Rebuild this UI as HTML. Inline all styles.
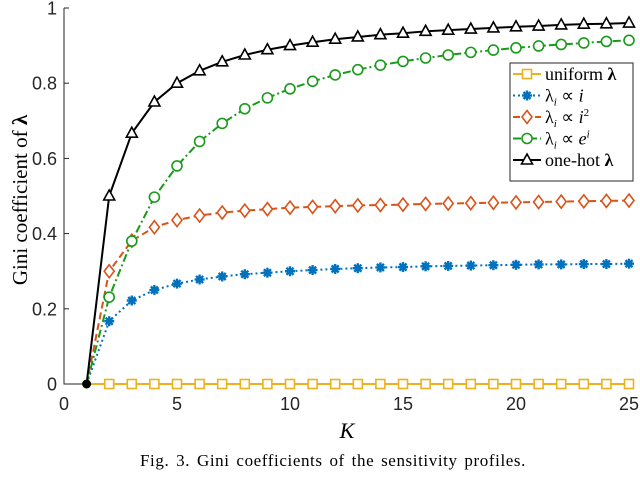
<!DOCTYPE html>
<html><head><meta charset="utf-8"><style>
body{margin:0;background:#fff;}
svg text{font-family:"Liberation Serif",serif;}
svg text.tk{font-family:"Liberation Sans",sans-serif;}
</style></head><body>
<svg id="chart" width="640" height="476" viewBox="0 0 640 476" xmlns="http://www.w3.org/2000/svg">
<g id="axes"></g>
<g id="series"></g>
<g id="legend"></g>
<text x="347" y="438" font-size="22" font-style="italic" text-anchor="middle">K</text>
<text transform="translate(27,200) rotate(-90)" font-size="21" text-anchor="middle">Gini coefficient of <tspan font-weight="bold">λ</tspan></text>
<text x="333" y="466" font-size="17" letter-spacing="0.6" word-spacing="2" text-anchor="middle">Fig. 3.   Gini coefficients of the sensitivity profiles.</text>
</svg>
<script>
const kValues=[1,2,3,4,5,6,7,8,9,10,11,12,13,14,15,16,17,18,19,20,21,22,23,24,25];
const uniformVals=[0,0,0,0,0,0,0,0,0,0,0,0,0,0,0,0,0,0,0,0,0,0,0,0,0];
const linearVals=[0,.167,.222,.25,.267,.278,.286,.292,.296,.3,.303,.306,.308,.31,.311,.313,.314,.315,.316,.317,.318,.318,.319,.319,.32];
const squareVals=[0,.3,.381,.417,.436,.448,.456,.461,.465,.469,.471,.473,.475,.476,.477,.479,.48,.481,.482,.483,.484,.485,.486,.487,.488];
const expVals=[0,.231,.38,.497,.58,.645,.693,.732,.761,.785,.805,.822,.836,.848,.858,.867,.875,.882,.888,.894,.899,.903,.907,.911,.914];
const onehotVals=[0,.5,.667,.75,.8,.833,.857,.875,.889,.9,.909,.917,.923,.929,.933,.938,.941,.944,.947,.95,.952,.955,.957,.958,.96];
const xTicks=[0,5,10,15,20,25];
const yTicks=[0,0.2,0.4,0.6,0.8,1];
const yTickLabels=["0","0.2","0.4","0.6","0.8","1"];
const NS="http://www.w3.org/2000/svg";
const X=v=>64+v*(629-64)/25;
const Y=v=>384-v*376;
function mk(tag,attrs,parent){const e=document.createElementNS(NS,tag);for(const k in attrs)e.setAttribute(k,attrs[k]);parent.appendChild(e);return e;}
const axes=document.getElementById('axes');
let a=mk('path',{d:`M${X(0)},${Y(1)}V${Y(0)}H${X(25)}`,fill:'none',stroke:'#262626','stroke-width':1},axes);


xTicks.forEach(t=>{
 let l=mk('line',{x1:X(t),x2:X(t),y1:Y(0),y2:Y(0)-5,stroke:'#262626'},axes);
 
 
 let tx=mk('text',{class:'tk',x:X(t),y:410,'font-size':18,'text-anchor':'middle',fill:'#262626'},axes);tx.textContent=t;
 
 
});
yTicks.forEach((t,i)=>{
 let l=mk('line',{x1:X(0),x2:X(0)+5,y1:Y(t),y2:Y(t),stroke:'#262626'},axes);
 
 
 let tx=mk('text',{class:'tk',x:57,y:Y(t)+6.5,'font-size':18,'text-anchor':'end',fill:'#262626'},axes);tx.textContent=yTickLabels[i];
 
 
});
const specs=[
 {vals:uniformVals,color:'#EDB120',dash:'',m:'square',name:'series-uniform'},
 {vals:linearVals,color:'#0072BD',dash:'2,3',m:'star',name:'series-linear'},
 {vals:squareVals,color:'#D95319',dash:'7,4',m:'diamond',name:'series-square'},
 {vals:expVals,color:'#1A9A1A',dash:'8,3,2,3',m:'circle',name:'series-exp'},
 {vals:onehotVals,color:'#000',dash:'',m:'triangle',name:'series-onehot'}];
function marker(g,type,x,y,c){
 let e;
 if(type==='square')e=mk('rect',{x:x-4.5,y:y-4.5,width:9,height:9,fill:'#fff',stroke:c,'stroke-width':1.6},g);
 else if(type==='circle')e=mk('circle',{cx:x,cy:y,r:5,fill:'#fff',stroke:c,'stroke-width':1.6},g);
 else if(type==='diamond')e=mk('path',{d:`M${x},${y-6.5}L${x+5},${y}L${x},${y+6.5}L${x-5},${y}Z`,fill:'#fff',stroke:c,'stroke-width':1.6},g);
 else if(type==='triangle')e=mk('path',{d:`M${x},${y-6}L${x+5.5},${y+4}L${x-5.5},${y+4}Z`,fill:'#fff',stroke:c,'stroke-width':1.6},g);
 else {e=mk('g',{},g);for(let k=0;k<4;k++){const an=k*Math.PI/4;mk('line',{x1:x-5*Math.cos(an),y1:y-5*Math.sin(an),x2:x+5*Math.cos(an),y2:y+5*Math.sin(an),stroke:c,'stroke-width':2.4},e);}mk('circle',{cx:x,cy:y,r:3,fill:c},e);}
 return e;
}
const sg=document.getElementById('series');
specs.forEach(s=>{
 const g=mk('g',{},sg);
 
 
 const pts=kValues.map((k,i)=>X(k)+','+Y(s.vals[i])).join(' ');
 mk('polyline',{points:pts,fill:'none',stroke:s.color,'stroke-width':2,'stroke-dasharray':s.dash},g);
 kValues.forEach((k,i)=>{if(i===0)return;const m=marker(g,s.m,X(k),Y(s.vals[i]),s.color);
  
  });
});
const dot=mk('circle',{cx:X(1),cy:Y(0),r:4.5,fill:'#000'},sg);


const lg=document.getElementById('legend');
mk('rect',{x:510,y:63,width:123,height:118,fill:'#fff',stroke:'#262626','stroke-width':1},lg);
const legLabels=['uniform <tspan font-weight="bold">λ</tspan>','λ<tspan font-size="11" dy="4" font-style="italic">i</tspan><tspan dy="-4"> ∝ </tspan><tspan font-style="italic">i</tspan>','λ<tspan font-size="11" dy="4" font-style="italic">i</tspan><tspan dy="-4"> ∝ </tspan><tspan font-style="italic">i</tspan><tspan font-size="11" dy="-7">2</tspan>','λ<tspan font-size="11" dy="4" font-style="italic">i</tspan><tspan dy="-4"> ∝ </tspan><tspan font-style="italic">e</tspan><tspan font-size="11" dy="-7" font-style="italic">i</tspan>','one-hot <tspan font-weight="bold">λ</tspan>'];
specs.forEach((s,i)=>{
 const y=74+i*21.5;
 const g=mk('g',{},lg);
 
 
 mk('line',{x1:513,x2:541,y1:y,y2:y,stroke:s.color,'stroke-width':2,'stroke-dasharray':s.dash},g);
 marker(g,s.m,527,y,s.color);
 const t=mk('text',{x:545,y:y+6,'font-size':18},g);t.innerHTML=legLabels[i];
});
</script>
</body></html>
